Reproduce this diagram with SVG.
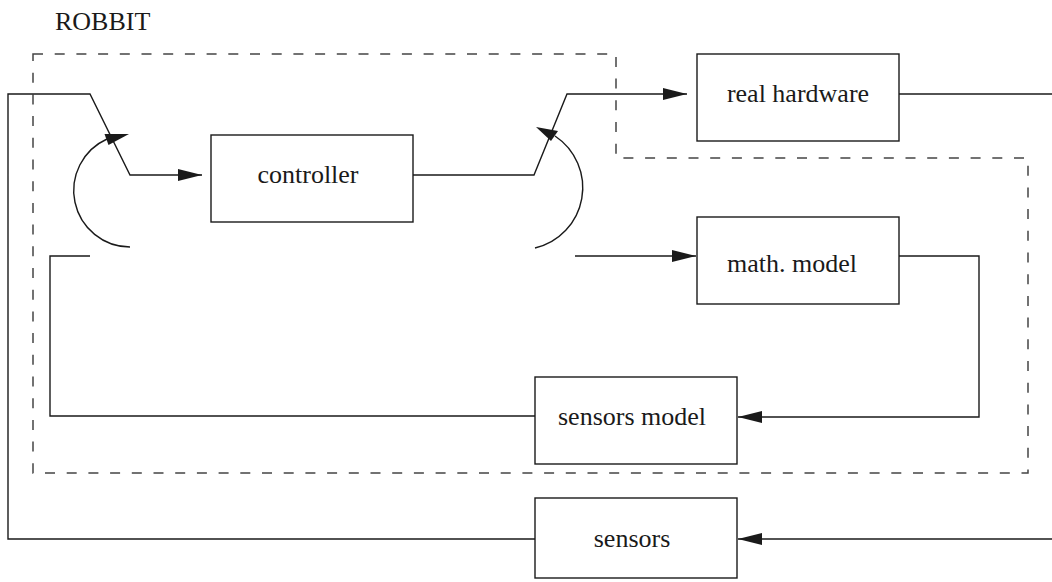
<svg xmlns="http://www.w3.org/2000/svg" width="1052" height="582" viewBox="0 0 1052 582">
<style>
.box{fill:#fff;stroke:#1a1a1a;stroke-width:1.4}
.lbl{font-family:"Liberation Serif","Times New Roman",serif;font-size:26px;fill:#1a1a1a;text-anchor:middle}
.ln{fill:none;stroke:#1a1a1a;stroke-width:1.4}
.dash{fill:none;stroke:#444;stroke-width:1.5;stroke-dasharray:10 11.7}
.head{fill:#1a1a1a;stroke:none}
</style>
<defs>
<marker id="arr" markerUnits="userSpaceOnUse" markerWidth="24" markerHeight="12" refX="24" refY="6" orient="auto">
<path d="M0,0 L24,6 L0,12 Z" fill="#1a1a1a"/>
</marker>
</defs>
<rect width="1052" height="582" fill="#fff"/>
<g id="robbit-boundary">
<path class="dash" d="M33,54 H616 V158 H1028 V473 H33 Z"/>
<text class="lbl" x="55" y="30" style="text-anchor:start">ROBBIT</text>
</g>
<g id="connectors">
<path class="ln" d="M535,539 H8 V94 H90 L130,175 H202" marker-end="url(#arr)"/>
<path class="ln" d="M413,175 H534 L567,94 H687" marker-end="url(#arr)"/>
<path class="ln" d="M899,94 H1052"/>
<path class="ln" d="M575,256 H696" marker-end="url(#arr)"/>
<path class="ln" d="M899,256 H979 V417 H738" marker-end="url(#arr)"/>
<path class="ln" d="M535,416 H50 V256 H90"/>
<path class="ln" d="M1052,539 H738" marker-end="url(#arr)"/>
<path class="ln" d="M130,247 A56.5,56.5 0 0 1 107,139"/>
<polygon class="head" points="129,134 104.5,134 108.5,145"/>
<path class="ln" d="M535,248 A62,62 0 0 0 555,136"/>
<polygon class="head" points="536,127 558,131 551,141"/>
</g>
<g id="controller">
<rect class="box" x="211" y="135" width="202" height="87"/>
<text class="lbl" x="308" y="183">controller</text>
</g>
<g id="real-hardware">
<rect class="box" x="697" y="54" width="202" height="87"/>
<text class="lbl" x="798" y="102">real hardware</text>
</g>
<g id="math-model">
<rect class="box" x="697" y="217" width="202" height="87"/>
<text class="lbl" x="792" y="272">math. model</text>
</g>
<g id="sensors-model">
<rect class="box" x="535" y="377" width="202" height="87"/>
<text class="lbl" x="632" y="425">sensors model</text>
</g>
<g id="sensors">
<rect class="box" x="535" y="498" width="202" height="80"/>
<text class="lbl" x="632" y="547">sensors</text>
</g>
</svg>
